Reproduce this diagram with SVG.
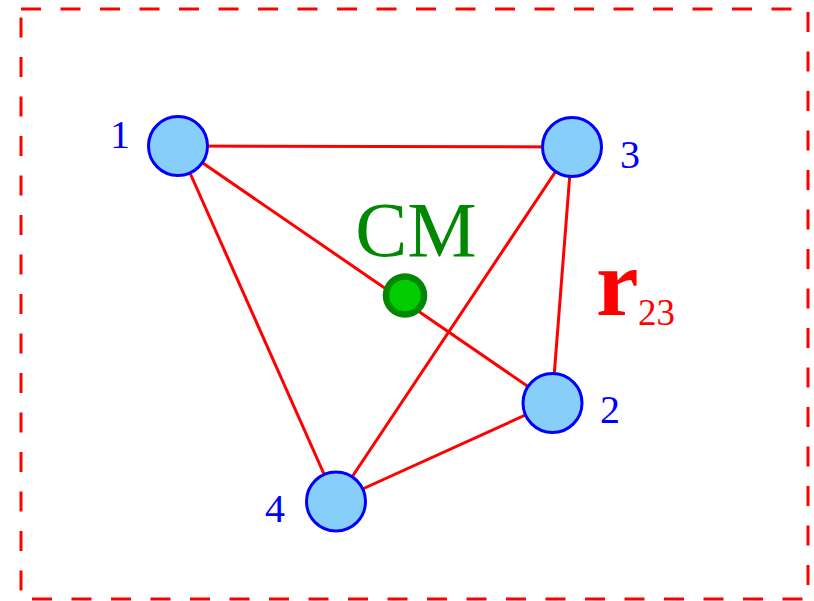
<svg xmlns="http://www.w3.org/2000/svg" width="814" height="601" viewBox="0 0 814 601">
<style>
.edge{stroke:#ff0000;stroke-width:3;fill:none}
.node{fill:#87cefa;stroke:#0000ff;stroke-width:3}
.lbl{font-family:"Liberation Serif","Times New Roman",serif;font-size:40px;fill:#0000ff}
</style>
<rect x="21" y="9" width="787" height="590" fill="none" stroke="#ff0000" stroke-width="3" stroke-dasharray="20 19.5"/>
<g id="connectors">
<line class="edge" x1="178" y1="146" x2="572" y2="147"/>
<line class="edge" x1="178" y1="146" x2="336" y2="501"/>
<line class="edge" x1="178" y1="146" x2="552" y2="403"/>
<line class="edge" x1="572" y1="147" x2="336" y2="501"/>
<line class="edge" x1="572" y1="147" x2="552" y2="403"/>
<line class="edge" x1="336" y1="501" x2="552" y2="403"/>
</g>
<g id="n1"><circle class="node" cx="178" cy="146" r="29.5"/><text class="lbl" x="110" y="148">1</text></g>
<g id="n3"><circle class="node" cx="572" cy="147" r="29.5"/><text class="lbl" x="620" y="168">3</text></g>
<g id="n2"><circle class="node" cx="552.5" cy="403" r="29.5"/><text class="lbl" x="600" y="423">2</text></g>
<g id="n4"><circle class="node" cx="336" cy="501.5" r="29.5"/><text class="lbl" x="265" y="522">4</text></g>
<g id="cm"><circle cx="405" cy="295.5" r="19" fill="#00cc00" stroke="#008800" stroke-width="6.5"/><text x="416" y="256" text-anchor="middle" font-family="Liberation Serif,'Times New Roman',serif" font-size="78" fill="#008800">CM</text></g>
<g id="r23"><text x="596" y="315" font-family="Liberation Serif,'Times New Roman',serif" font-size="96" font-weight="bold" fill="#ff0000">r</text><text x="638" y="325" font-family="Liberation Serif,'Times New Roman',serif" font-size="37" fill="#ff0000">23</text></g>
</svg>
